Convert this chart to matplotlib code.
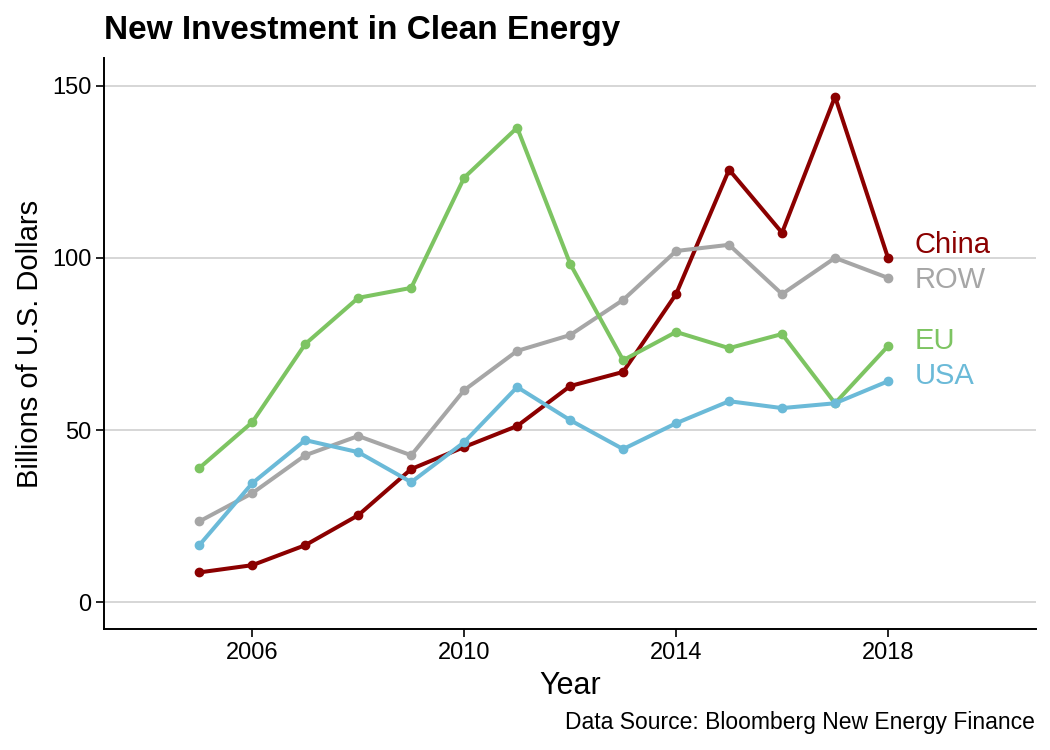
import matplotlib.pyplot as plt

plt.rcParams['font.family'] = ['Liberation Sans', 'DejaVu Sans']

# datos (miles de millones USD)
years = list(range(2005, 2019))
china = [8.7, 10.8, 16.6, 25.3, 38.7, 45.1, 51.2, 62.8, 66.9, 89.5, 125.6, 107.3, 146.8, 100.0]
row = [23.5, 31.7, 42.7, 48.3, 42.7, 61.6, 73.0, 77.6, 87.8, 102.0, 103.8, 89.5, 100.0, 94.2]
eu = [39.0, 52.3, 75.0, 88.4, 91.3, 123.3, 137.8, 98.3, 70.3, 78.5, 73.8, 77.9, 57.8, 74.4]
usa = [16.6, 34.6, 47.1, 43.6, 34.9, 46.5, 62.5, 52.9, 44.5, 52.0, 58.4, 56.4, 57.8, 64.2]

regions = ['China', 'ROW', 'EU', 'USA']
series = [china, row, eu, usa]
colors = ['#8B0000', '#A6A6A6', '#7DC462', '#6BBAD8']
label_y = [103.8, 93.6, 75.9, 65.7]

fig = plt.figure(figsize=(10.5, 7.5), dpi=100)
ax = fig.add_axes([0.099, 0.161, 0.888, 0.762])

for name, vals, col, ly in zip(regions, series, colors, label_y):
    ax.plot(years, vals, color=col, lw=2.9, marker='o', ms=6, zorder=3)
    ax.text(2018.5, ly, name, color=col, fontsize=21, va='center', ha='left')

ax.set_xlim(2003.2, 2020.8)
ax.set_ylim(-7.8, 158.1)
ax.set_xticks([2006, 2010, 2014, 2018])
ax.set_yticks([0, 50, 100, 150])
ax.grid(axis='y', color='#D3D3D3', lw=1.3)
ax.set_axisbelow(True)
for s in ['top', 'right']:
    ax.spines[s].set_visible(False)
for s in ['left', 'bottom']:
    ax.spines[s].set_linewidth(1.4)
ax.tick_params(labelsize=17, length=6, width=1.2, pad=3, color='black', labelcolor='black')

ax.set_xlabel('Year', fontsize=22, labelpad=5)
ax.set_ylabel('Billions of U.S. Dollars', fontsize=21, labelpad=6)
fig.text(0.099, 0.96, 'New Investment in Clean Energy', fontsize=24, fontweight='bold', va='center')
fig.text(0.986, 0.037, 'Data Source: Bloomberg New Energy Finance', fontsize=16.5, ha='right', va='center')

fig.savefig('out.png', dpi=100)
